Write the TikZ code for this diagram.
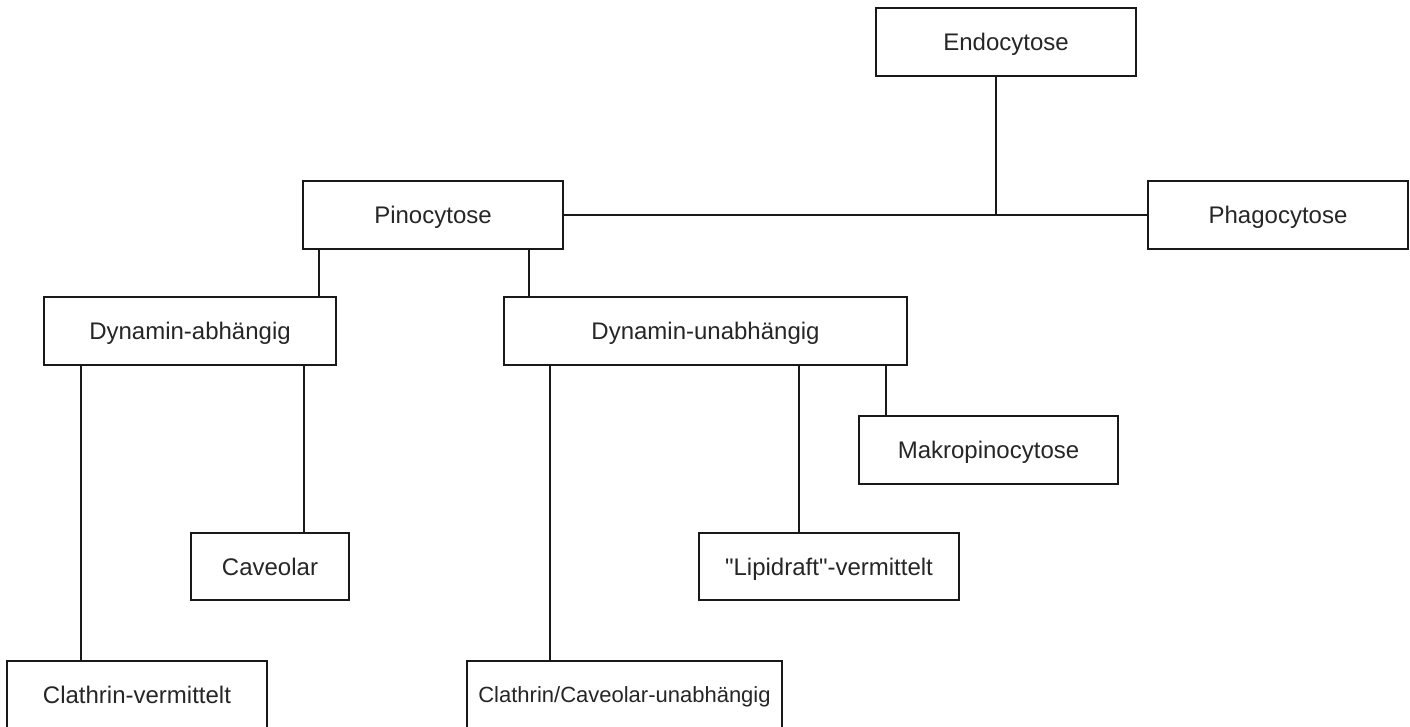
\documentclass[tikz,border=0pt]{standalone}
\usepackage{fontspec}
\setmainfont{Liberation Sans}[Ligatures=TeXOff]
\begin{document}
\begin{tikzpicture}[x=1pt,y=-1pt,
  box/.style={draw=black!90, line width=1.8pt, fill=white, rectangle, inner sep=0pt,
    minimum height=68pt, font=\fontsize{24}{28}\selectfont, text=black!85,
    text height=20pt, text depth=3pt},
  link/.style={draw=black!90, line width=1.8pt}]
\useasboundingbox (0,0) rectangle (1410,727);
\clip (0,0) rectangle (1410,727);

% boxes
\node[box, minimum width=260pt] (endo)   at (1006,42)    {Endocytose};
\node[box, minimum width=260pt] (pino)   at (433,215)    {Pinocytose};
\node[box, minimum width=260pt] (phago)  at (1278,215)   {Phagocytose};
\node[box, minimum width=292pt] (dabh)   at (190,331)    {Dynamin-abhängig};
\node[box, minimum width=403pt] (dunabh) at (705.5,331)  {Dynamin-unabhängig};
\node[box, minimum width=259pt] (makro)  at (988.5,450)  {Makropinocytose};
\node[box, minimum width=158pt, minimum height=67pt] (cav)   at (270,566.5) {Caveolar};
\node[box, minimum width=260pt, minimum height=67pt] (lipid) at (829,566.5) {"Lipidraft"-vermittelt};
\node[box, minimum width=260pt] (clvm)   at (137,695)    {Clathrin-vermittelt};
\node[box, minimum width=315pt, font=\fontsize{22}{26}\selectfont,
      text height=18.5pt, text depth=2.7pt] (clcav) at (624.5,695) {Clathrin/Caveolar-unabhängig};

% vertical guide positions of the connectors
\coordinate (j)  at (996,215);
\coordinate (xa) at (319,0);
\coordinate (xb) at (529,0);
\coordinate (xc) at (81,0);
\coordinate (xd) at (304,0);
\coordinate (xe) at (550,0);
\coordinate (xf) at (799,0);
\coordinate (xg) at (886,0);

% connectors
\draw[link] (pino.east) -- (phago.west);
\draw[link] (endo.south -| j) -- (j);
\draw[link] (pino.south -| xa) -- (dabh.north -| xa);
\draw[link] (pino.south -| xb) -- (dunabh.north -| xb);
\draw[link] (dabh.south -| xc) -- (clvm.north -| xc);
\draw[link] (dabh.south -| xd) -- (cav.north -| xd);
\draw[link] (dunabh.south -| xe) -- (clcav.north -| xe);
\draw[link] (dunabh.south -| xf) -- (lipid.north -| xf);
\draw[link] (dunabh.south -| xg) -- (makro.north -| xg);
\end{tikzpicture}
\end{document}
